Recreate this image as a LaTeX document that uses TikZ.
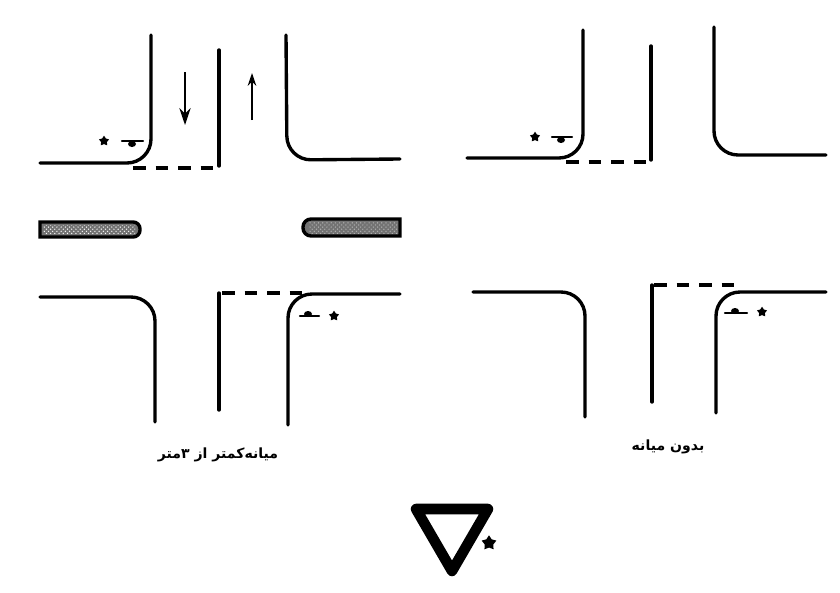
\documentclass[tikz,border=0pt]{standalone}
\usepackage{fontspec}
\newfontfamily\arabicfont[Script=Arabic]{DejaVu Sans}
\TeXXeTstate=1
\usetikzlibrary{arrows.meta,shapes.geometric,patterns}
\tikzset{
curbline/.style={line width=2.4pt,line cap=round,rounded corners=.6cm},
midline/.style={line width=2.4pt,line cap=round},
stopline/.style={line width=2.4pt,dash pattern=on 9pt off 7pt},
signbar/.style={line width=1.6pt,line cap=round},
mediansolid/.style={draw=black,line width=2.4pt,fill=black!55,rounded corners=0pt},
starmark/.style={star,star points=5,star point ratio=1.7,fill=black,inner sep=0pt,minimum size=7.5pt},
caption/.style={font=\arabicfont\bfseries\fontsize{10}{10}\selectfont,inner sep=0pt}
}
\begin{document}
\begin{tikzpicture}[x=.025cm,y=-.025cm]
\useasboundingbox(0,0)rectangle(840,592);
% left crossing, upper half
\draw[curbline](151,35)--(151,163)--(40,163);
\draw[midline](219,50)--(219,166);\draw[stopline](133,168)--(216,168);
\draw[curbline](286,35)--(287,160)--(400,159);
\draw[-{Stealth[length=12pt,width=8pt]},line width=1.2pt](185,72)--(185,125);
\draw[-{Stealth[length=9pt,width=6pt]},line width=1.2pt](252,120)--(252,73);
\node[starmark](starA)at(104,141){};
\draw[signbar](122,141)--(143,141);\fill(132,144)ellipse(4 and 3);
% left crossing, medians
\draw[mediansolid](40,222)[rounded corners=.17cm]--(140,222)--(140,237)[sharp corners]--(40,237)--cycle;
\draw[mediansolid](400,219)[rounded corners=.2cm]--(303,219)--(303,236)[sharp corners]--(400,236)--cycle;
\fill[pattern=crosshatch dots,pattern color=white](43,225)rectangle(135,234);
\fill[pattern=crosshatch dots,pattern color=white!70!black](309,222)rectangle(398,233);
% left crossing, lower half
\draw[curbline](40,297)--(155,297)--(155,422);
\draw[midline](219,293)--(219,410);\draw[stopline](222,293)--(302,293);
\draw[curbline](288,425)--(288,294)--(400,294);
\draw[signbar](300,316)--(319,316);\fill(308,314)ellipse(4 and 3);
\node[starmark](starB)at(334,316){};
% right crossing
\draw[curbline](583,30)--(583,158)--(467,158);
\draw[midline](651,46)--(651,160);\draw[stopline](566,162)--(650,162);
\draw[curbline](714,27)--(714,155)--(826,155);
\node[starmark](starC)at(535,137){};
\draw[signbar](552,137)--(572,137);\fill(561,140)ellipse(4 and 3);
\draw[curbline](473,292)--(585,292)--(585,417);
\draw[midline](652,285)--(652,402);\draw[stopline](654,285)--(736,285);
\draw[curbline](716,413)--(716,292)--(826,292);
\draw[signbar](725,313)--(747,313);\fill(735,311)ellipse(4 and 3);
\node[starmark](starD)at(762,312){};
% captions and yield sign
\node[caption](capA)at(218,455){\beginR میانه‌کمتر از ۳متر\endR};
\node[caption](capB)at(668,447){\beginR بدون میانه\endR};
\draw[line width=7.5pt,line join=round](416,509)--(488,509)--(452,571)--cycle;
\node[starmark,minimum size=11pt](starE)at(489,543){};
\end{tikzpicture}
\end{document}
